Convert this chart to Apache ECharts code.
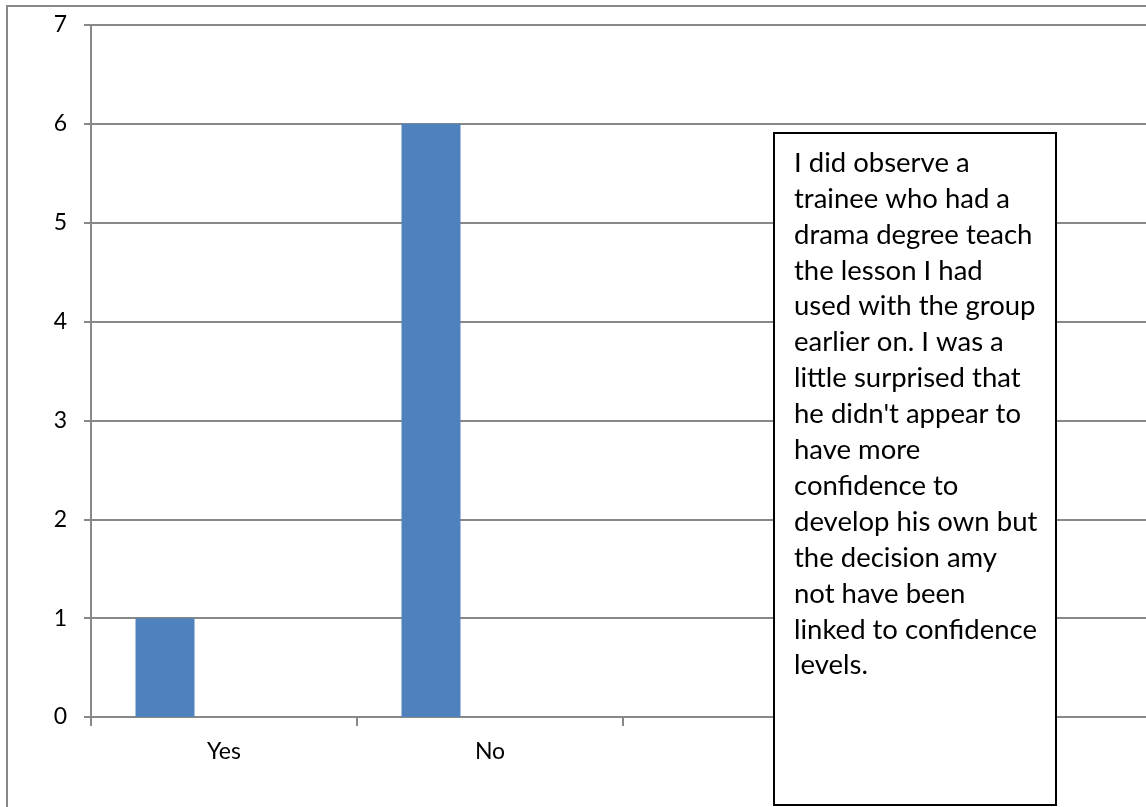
<!DOCTYPE html>
<html>
<head>
<meta charset="utf-8">
<script src="https://cdn.jsdelivr.net/npm/echarts@6/dist/echarts.min.js"></script>
<style>
  html, body { margin: 0; padding: 0; background: #ffffff; }
  #chart { width: 1146px; height: 807px; }
</style>
</head>
<body>
<div id="chart"></div>
<script>
// Survey responses per category, three clustered series (only the first holds answers)
const categories = ['Yes', 'No', '', ''];
const series1 = [1, 6, null, null];
const series2 = [null, null, null, null];
const series3 = [null, null, null, null];
const yTicks = [0, 1, 2, 3, 4, 5, 6, 7];

// Free-text comment shown in the boxed note
const noteLines = [
  'I did observe a',
  'trainee who had a',
  'drama degree teach',
  'the lesson I had',
  'used with the group',
  'earlier on. I was a',
  'little surprised that',
  "he didn't appear to",
  'have more',
  'confidence to',
  'develop his own but',
  'the decision amy',
  'not have been',
  'linked to confidence',
  'levels.'
];

const FONT = 'Lato, "Open Sans", sans-serif';
const AXIS_GREY = '#888888';

const chart = echarts.init(document.getElementById('chart'), null, { renderer: 'canvas' });

const barStyle = { color: '#4F81BD' };

chart.setOption({
  animation: false,
  backgroundColor: '#ffffff',
  grid: { left: 91, top: 25, width: 1064, height: 692, containLabel: false, outerBoundsMode: 'none' },
  xAxis: {
    type: 'category',
    data: categories,
    axisLine: { show: true, lineStyle: { color: AXIS_GREY, width: 2 } },
    axisTick: { show: true, length: 9, interval: 0, lineStyle: { color: AXIS_GREY, width: 2 } },
    axisLabel: { color: '#000000', fontFamily: FONT, fontSize: 23, margin: 23, interval: 0 },
    splitLine: { show: false }
  },
  yAxis: {
    type: 'value',
    min: yTicks[0],
    max: yTicks[yTicks.length - 1],
    interval: 1,
    axisLine: { show: true, lineStyle: { color: AXIS_GREY, width: 2 } },
    axisTick: { show: true, length: 7, lineStyle: { color: AXIS_GREY, width: 2 } },
    axisLabel: { color: '#000000', fontFamily: FONT, fontSize: 23, margin: 24 },
    splitLine: { show: true, lineStyle: { color: AXIS_GREY, width: 2 } }
  },
  series: [
    { type: 'bar', data: series1, barWidth: 59, barGap: '0%', itemStyle: barStyle },
    { type: 'bar', data: series2, barWidth: 59, barGap: '0%', itemStyle: { color: '#C0504D' } },
    { type: 'bar', data: series3, barWidth: 59, barGap: '0%', itemStyle: { color: '#9BBB59' } }
  ],
  graphic: [
    {
      // outer chart-area frame
      type: 'rect',
      silent: true,
      z: 0,
      shape: { x: 7, y: 6, width: 1300, height: 1000 },
      style: { fill: null, stroke: AXIS_GREY, lineWidth: 2 }
    },
    {
      // boxed comment drawn over the plot
      type: 'rect',
      z: 100,
      zlevel: 1,
      shape: { x: 774, y: 133, width: 282, height: 672 },
      style: { fill: '#ffffff', stroke: '#000000', lineWidth: 2 }
    },
    {
      type: 'text',
      z: 101,
      zlevel: 1,
      x: 794,
      y: 145,
      style: {
        text: noteLines.join('\n'),
        fill: '#000000',
        font: '27.5px ' + FONT,
        lineHeight: 35.9,
        align: 'left',
        verticalAlign: 'top'
      }
    }
  ]
});
</script>
</body>
</html>
